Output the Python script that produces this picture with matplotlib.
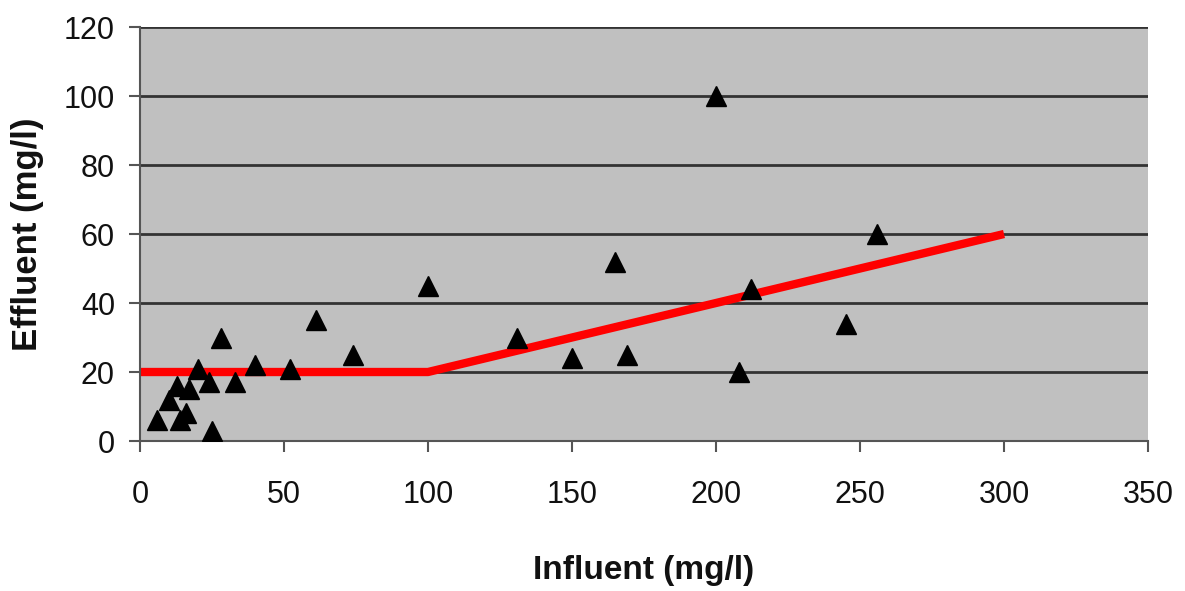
import matplotlib.pyplot as plt

# Measured points (influent vs effluent, mg/l)
influent = [6, 10, 13, 17, 20, 24, 14, 16, 25, 28, 33, 40, 52, 61, 74,
            100, 131, 150, 165, 169, 200, 208, 212, 245, 256]
effluent = [6, 12, 16, 15, 21, 17, 6, 8, 3, 30, 17, 22, 21, 35, 25,
            45, 30, 24, 52, 25, 100, 20, 44, 34, 60]

# Standard line
line_x = [0, 100, 300]
line_y = [20, 20, 60]

plt.rcParams['font.family'] = ['Liberation Sans', 'DejaVu Sans']

fig = plt.figure(figsize=(11.85, 5.91), dpi=100)
ax = fig.add_axes([0.1181, 0.2538, 0.8507, 0.7005])
ax.set_facecolor('#c0c0c0')

for v in [20, 40, 60, 80, 100, 120]:
    ax.axhline(v, color='#333333', lw=2, zorder=1)

ax.plot(line_x, line_y, color='#ff0000', lw=6, zorder=2, solid_capstyle='butt')
ax.plot(influent, effluent, linestyle='none', marker='^', color='black',
        markersize=15, zorder=3)

ax.set_xlim(0, 350)
ax.set_ylim(0, 120)
ax.set_xticks(range(0, 351, 50))
ax.set_yticks(range(0, 121, 20))

for s in ['top', 'right']:
    ax.spines[s].set_visible(False)
ax.spines['left'].set_color('#555555')
ax.spines['bottom'].set_color('#555555')
ax.spines['left'].set_linewidth(1.5)
ax.spines['bottom'].set_linewidth(1.5)
ax.tick_params(axis='both', colors='#555555', width=1.5, length=8, labelcolor='#111111',
               labelsize=22)
ax.tick_params(axis='x', pad=20)
ax.tick_params(axis='y', pad=10)

ax.set_xlabel('Influent (mg/l)', fontsize=24, fontweight='bold', color='#111111')
ax.xaxis.set_label_coords(0.5, -0.275)
ax.set_ylabel('Effluent (mg/l)', fontsize=25, fontweight='bold', color='#111111')
ax.yaxis.set_label_coords(-0.095, 0.5)

fig.savefig('out.png', dpi=100)
